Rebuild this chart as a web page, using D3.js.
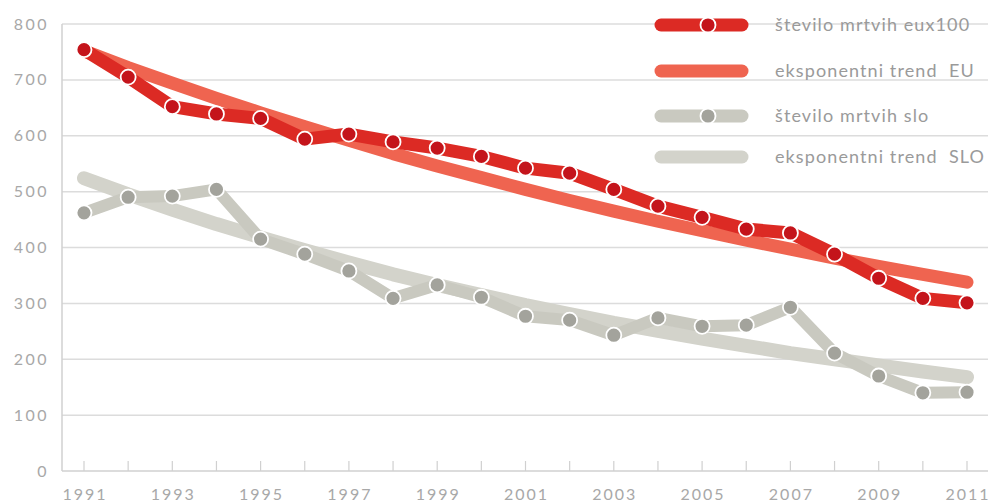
<!DOCTYPE html>
<html><head><meta charset="utf-8">
<script src="https://cdn.jsdelivr.net/npm/d3@7/dist/d3.min.js"></script>
<style>body{margin:0;background:#fff}svg{display:block}text{white-space:pre}</style>
</head><body>
<svg id="c" width="1005" height="502"></svg>
<script>
const years = d3.range(1991, 2012);
const xTickLabels = [1991,1993,1995,1997,1999,2001,2003,2005,2007,2009,2011];
const yTicks = [0,100,200,300,400,500,600,700,800];
const euDeaths = [754,705,652,639,631,594,603,589,578,563,542,533,504,474,454,433,426,388,345,309,301];
const euTrend  = [752,722,694,667,641,616,592,568,546,525,504,484,465,447,430,413,397,381,366,352,338];
const sloDeaths = [462,490,492,504,415,388,358,309,333,311,277,270,243,274,259,261,293,211,170,140,141];
const sloTrend  = [524,495,468,442,418,395,373,352,333,315,297,281,265,251,237,224,211,200,189,178,168];
const legendLabels = ["število mrtvih eux100","eksponentni trend  EU","število mrtvih slo","eksponentni trend  SLO"];

const svg = d3.select("#c");
const x = d3.scaleLinear().domain([1991, 2011]).range([84, 967]);
const y = d3.scaleLinear().domain([0, 800]).range([471, 24]);
const font = "Lato, 'Open Sans', sans-serif";

// gridlines
svg.append("g").selectAll("line").data(yTicks.filter(d=>d>0)).join("line")
  .attr("x1", 62).attr("x2", 988).attr("y1", d=>y(d)).attr("y2", d=>y(d))
  .attr("stroke", "#dcdcdc").attr("stroke-width", 1.5);
// axes
svg.append("line").attr("x1",62).attr("x2",62).attr("y1",y(800)).attr("y2",471).attr("stroke","#d0d0d0").attr("stroke-width",1.5);
svg.append("line").attr("x1",62).attr("x2",988).attr("y1",471).attr("y2",471).attr("stroke","#d0d0d0").attr("stroke-width",1.5);
svg.append("g").selectAll("line").data(years).join("line")
  .attr("x1", d=>x(d)).attr("x2", d=>x(d)).attr("y1", 461).attr("y2", 471)
  .attr("stroke", "#d0d0d0").attr("stroke-width", 1.2);

svg.append("g").selectAll("text").data(yTicks).join("text")
  .attr("x", 49).attr("y", d=>y(d)).attr("dy", "0.35em").attr("text-anchor","end")
  .attr("fill","#a8a8a8").attr("font-family",font).attr("font-size",16)
  .attr("letter-spacing",2.5).text(d=>d);
svg.append("g").selectAll("text").data(xTickLabels).join("text")
  .attr("x", d=>x(d)+1).attr("y", 494).attr("dy","0.35em").attr("text-anchor","middle")
  .attr("fill","#a8a8a8").attr("font-family",font).attr("font-size",16)
  .attr("letter-spacing",2).text(d=>d);

const line = d3.line().x((d,i)=>x(years[i])).y(d=>y(d));

const colors = {euLine:"#dc2a24", euDot:"#c4141b", euTrend:"#ef6450", sloLine:"#c9c9c0", sloDot:"#a3a39c", sloTrend:"#d3d3cb"};

function drawPath(data, color, w){
  svg.append("path").datum(data).attr("d", line).attr("fill","none")
    .attr("stroke", color).attr("stroke-width", w)
    .attr("stroke-linecap","round").attr("stroke-linejoin","round");
}
function drawDots(data, color){
  svg.append("g").selectAll("circle").data(data).join("circle")
    .attr("cx",(d,i)=>x(years[i])).attr("cy", d=>y(d)).attr("r", 7.5)
    .attr("fill", color).attr("stroke","#fff").attr("stroke-width",1.8);
}
drawPath(sloTrend, colors.sloTrend, 14);
drawPath(sloDeaths, colors.sloLine, 12);
drawDots(sloDeaths, colors.sloDot);
drawPath(euTrend, colors.euTrend, 13);
drawPath(euDeaths, colors.euLine, 13);
drawDots(euDeaths, colors.euDot);

// legend
const legY = [25, 71, 116, 157];
const legStyles = [
  {c:colors.euLine, dot:colors.euDot},
  {c:colors.euTrend},
  {c:colors.sloLine, dot:colors.sloDot},
  {c:colors.sloTrend}
];
const lg = svg.append("g");
legendLabels.forEach((t,i)=>{
  lg.append("line").attr("x1",661).attr("x2",742).attr("y1",legY[i]).attr("y2",legY[i])
    .attr("stroke",legStyles[i].c).attr("stroke-width",13).attr("stroke-linecap","round");
  if (legStyles[i].dot) lg.append("circle").attr("cx",708).attr("cy",legY[i]).attr("r",7.5)
    .attr("fill",legStyles[i].dot).attr("stroke","#fff").attr("stroke-width",1.8);
  lg.append("text").attr("x",775).attr("y",legY[i]).attr("dy","0.35em")
    .attr("fill","#9a9a9a").attr("font-family",font).attr("font-size",18)
    .attr("letter-spacing",1.1).text(t);
});
</script>
</body></html>
